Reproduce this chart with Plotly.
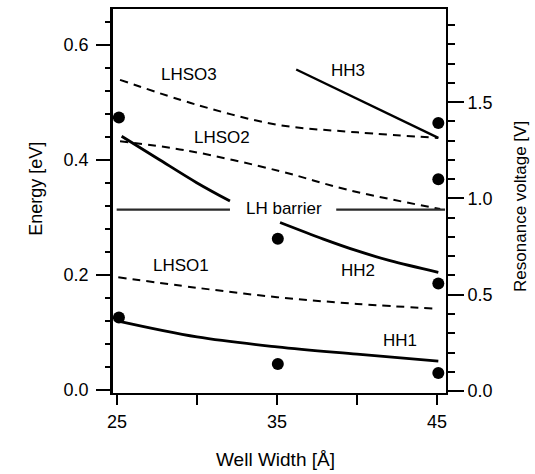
import plotly.graph_objects as go

# ---- data ----
hh1_x = [25.08, 30, 35, 40, 45.08]
hh1_y = [0.119, 0.0915, 0.0742, 0.0615, 0.0494]

hh2_x = [25.29, 27.48, 29.98, 32.06, None, 35.19, 37.9, 39.98, 42.06, 45.08]
hh2_y = [0.4407, 0.403, 0.360, 0.328, None, 0.2906, 0.2618, 0.2416, 0.2242, 0.204]

hh3_x = [36.2, 40, 45.08]
hh3_y = [0.557, 0.506, 0.438]

lhso1_x = [25.08, 30, 35, 40, 45.08]
lhso1_y = [0.1953, 0.177, 0.1607, 0.149, 0.1406]

lhso2_x = [25.19, 29.35, 35.19, 39.35, 45.2]
lhso2_y = [0.432, 0.416, 0.380, 0.348, 0.314]

lhso3_x = [25.19, 30, 35, 40, 45.08]
lhso3_y = [0.539, 0.4955, 0.461, 0.4476, 0.4378]

barrier_x = [24.98, 32.06, None, 38.7, 45.5]
barrier_y = [0.313, 0.313, None, 0.313, 0.313]

# measured resonance voltages [V] (right axis)
res_x = [25.12, 25.12, 35.05, 35.05, 45.08, 45.08, 45.08, 45.08]
res_v = [1.421, 0.382, 0.791, 0.140, 1.392, 1.100, 0.558, 0.093]

x_ticks = [25, 30, 35, 40, 45]
x_ticktext = ["25", "", "35", "", "45"]

FONT = "Liberation Sans, Arial, Helvetica, sans-serif"

fig = go.Figure()

solid = dict(color="black", width=2.8)
dashed = dict(color="black", width=2, dash="8px,6px")

fig.add_trace(go.Scatter(x=hh1_x, y=hh1_y, mode="lines", line=solid, line_shape="spline", showlegend=False))
fig.add_trace(go.Scatter(x=hh2_x, y=hh2_y, mode="lines", line=solid, line_shape="spline", showlegend=False))
fig.add_trace(go.Scatter(x=hh3_x, y=hh3_y, mode="lines", line=dict(color="black", width=2.3), showlegend=False))
fig.add_trace(go.Scatter(x=lhso1_x, y=lhso1_y, mode="lines", line=dashed, line_shape="spline", showlegend=False))
fig.add_trace(go.Scatter(x=lhso2_x, y=lhso2_y, mode="lines", line=dashed, line_shape="spline", showlegend=False))
fig.add_trace(go.Scatter(x=lhso3_x, y=lhso3_y, mode="lines", line=dashed, line_shape="spline", showlegend=False))
fig.add_trace(go.Scatter(x=barrier_x, y=barrier_y, mode="lines",
                         line=dict(color="#2a2a2a", width=2.2), showlegend=False))
fig.add_trace(go.Scatter(x=res_x, y=res_v, mode="markers", yaxis="y2",
                         marker=dict(color="black", size=12), showlegend=False))

labels = [
    ("LHSO3", 29.51, 0.549),
    ("HH3", 39.46, 0.556),
    ("LHSO2", 31.59, 0.438),
    ("LH barrier", 35.44, 0.315),
    ("LHSO1", 28.99, 0.216),
    ("HH2", 40.03, 0.207),
    ("HH1", 42.69, 0.086),
]
for t, x, y in labels:
    fig.add_annotation(x=x, y=y, xref="x", yref="y", text=t, showarrow=False,
                       xanchor="center", yanchor="middle",
                       font=dict(size=17, color="black", family=FONT))

# axis titles
fig.add_annotation(x=0.4865, y=-0.1736, xref="paper", yref="paper", text="Well Width [Å]",
                   showarrow=False, xanchor="center", yanchor="middle",
                   font=dict(size=19, color="black", family=FONT))
fig.add_annotation(x=-0.231, y=0.532, xref="paper", yref="paper", text="Energy [eV]",
                   showarrow=False, xanchor="center", yanchor="middle", textangle=-90,
                   font=dict(size=18, color="black", family=FONT))
fig.add_annotation(x=1.225, y=0.487, xref="paper", yref="paper", text="Resonance voltage [V]",
                   showarrow=False, xanchor="center", yanchor="middle", textangle=-90,
                   font=dict(size=17, color="black", family=FONT))

fig.update_layout(
    width=535, height=474,
    margin=dict(l=113, r=89, t=7, b=81),
    paper_bgcolor="white", plot_bgcolor="white",
    font=dict(family=FONT, size=18, color="black"),
    xaxis=dict(range=[24.75, 45.56], tickvals=x_ticks, ticktext=x_ticktext,
               ticks="outside", ticklen=10, tickwidth=2, tickcolor="black",
               ticklabelstandoff=1,
               showline=True, linewidth=2, linecolor="black", mirror=True,
               showgrid=False, zeroline=False),
    yaxis=dict(range=[-0.0061, 0.6623], dtick=0.2, tick0=0, tickformat=".1f",
               ticks="outside", ticklen=14, tickwidth=2, tickcolor="black",
               ticklabelstandoff=4,
               minor=dict(dtick=0.04, tick0=0, ticks="outside", ticklen=5, tickwidth=1.5, tickcolor="black"),
               showline=True, linewidth=2.5, linecolor="black",
               showgrid=False, zeroline=False),
    yaxis2=dict(range=[-0.0103, 1.984], dtick=0.5, tick0=0, tickformat=".1f",
                overlaying="y", side="right",
                ticks="outside", ticklen=16, tickwidth=2, tickcolor="black",
                minor=dict(dtick=0.1, tick0=0, ticks="outside", ticklen=7, tickwidth=1.5, tickcolor="black"),
                showline=True, linewidth=2, linecolor="black",
                showgrid=False, zeroline=False),
)

fig.write_html("out.html", config={"displayModeBar": False},
               post_script="document.body.style.margin='0px';")
